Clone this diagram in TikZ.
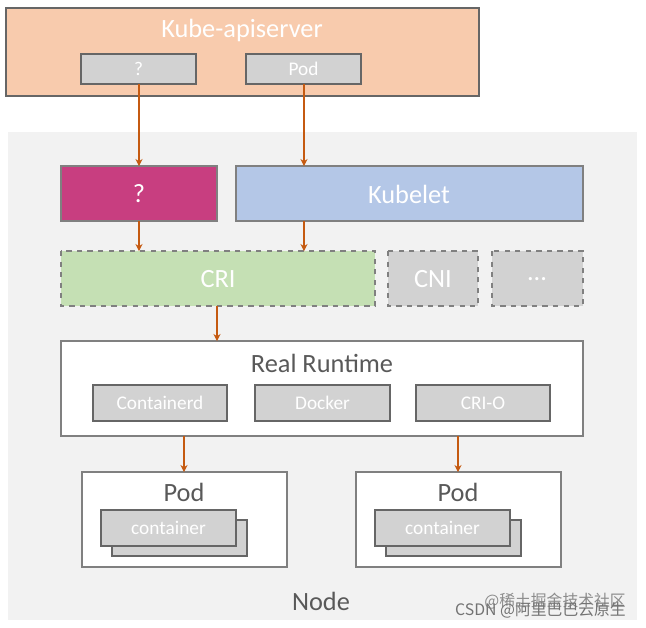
\documentclass[tikz,border=0pt]{standalone}
\usepackage{fontspec}
\usetikzlibrary{arrows.meta}
\setmainfont{Carlito}
\newfontfamily\cjk{Noto Sans CJK SC}
\begin{document}
\begin{tikzpicture}[x=0.02cm,y=-0.02cm,
 box/.style={draw=#1, line width=0.8pt},
 gbox/.style={draw=gray!80!black, fill=gray!35, line width=0.6pt},
 arr/.style={draw={rgb,255:red,197;green,90;blue,17}, line width=0.6pt, -{Stealth[length=4pt,width=4pt]}},
 wt/.style={text=white, font=\fontsize{15}{15}\selectfont},
 dt/.style={text=black!65, font=\fontsize{15}{15}\selectfont},
 st/.style={text=white, font=\fontsize{11}{11}\selectfont},
 sd/.style={text=black!70, font=\fontsize{11}{11}\selectfont}]
\useasboundingbox (0,0) rectangle (646,627);
% node background
\fill[gray!10] (8,132) rectangle (637,620);
\node[dt] (nodelbl) at (321,601) {Node};
% apiserver
\draw[box=black!60, fill={rgb,255:red,248;green,203;blue,173}] (6,8) rectangle (479,96);
\node[wt] at (242,30) {Kube-apiserver};
\draw[gbox] (81,54) rectangle (196,84); \node[st] (aq) at (138.5,69) {?};
\draw[gbox] (246,54) rectangle (361,84); \node[st] (apod) at (303.5,69) {Pod};
% row 2
\draw[box=black!50, fill={rgb,255:red,200;green,62;blue,128}] (61,166) rectangle (217,221);
\node[wt] (q) at (139,194) {?};
\draw[box=black!50, fill={rgb,255:red,180;green,199;blue,231}] (236,166) rectangle (583,221);
\node[wt] (kubelet) at (409,194) {Kubelet};
% row 3
\draw[dashed, draw=black!50, line width=0.8pt, fill={rgb,255:red,197;green,224;blue,180}] (61,251) rectangle (375,306);
\node[wt] (cri) at (218,279) {CRI};
\draw[dashed, draw=black!50, line width=0.8pt, fill=gray!35] (388,251) rectangle (478,306);
\node[wt] (cni) at (433,279) {CNI};
\draw[dashed, draw=black!50, line width=0.8pt, fill=gray!35] (492,251) rectangle (583,306);
\node[wt] (dots) at (537,279) {...};
% real runtime
\draw[box=black!50, fill=white] (61,341) rectangle (583,436);
\node[dt] (rr) at (322,363) {Real Runtime};
\draw[gbox] (93,385) rectangle (227,421); \node[st] at (160,403) {Containerd};
\draw[gbox] (255,385) rectangle (390,421); \node[st] at (322.5,403) {Docker};
\draw[gbox] (416,385) rectangle (550,421); \node[st] at (483,403) {CRI-O};
% pods
\foreach \dx/\n in {0/p1,274/p2}{
 \begin{scope}[xshift=\dx*0.02cm]
 \draw[box=black!50, fill=white] (82,472) rectangle (287,567);
 \node[dt] at (184,492) {Pod};
 \draw[gbox] (112,520) rectangle (247,556);
 \draw[gbox] (101,510) rectangle (236,546);
 \node[st] at (168.5,528) {container};
 \end{scope}}
% arrows
\draw[arr] (139,84) -- (139,166);
\draw[arr] (304,84) -- (304,166);
\draw[arr] (139,221) -- (139,251);
\draw[arr] (304,221) -- (304,251);
\draw[arr] (217,306) -- (217,341);
\draw[arr] (184,436) -- (184,472);
\draw[arr] (458,436) -- (458,472);
% watermark
\node[text=black!45, font=\cjk\fontsize{9}{9}\selectfont, anchor=east] at (632,601) {@稀土掘金技术社区};
\node[text=black!55, font=\cjk\fontsize{9}{9}\selectfont, anchor=east] at (632,610) {CSDN @阿里巴巴云原生};
\end{tikzpicture}
\end{document}
